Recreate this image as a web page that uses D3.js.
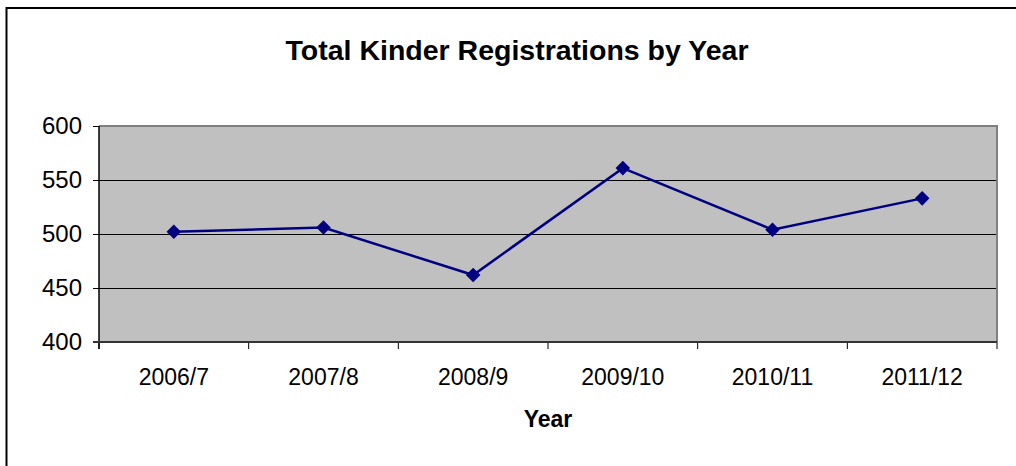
<!DOCTYPE html>
<html>
<head>
<meta charset="utf-8">
<script src="https://cdn.jsdelivr.net/npm/d3@7"></script>
<style>
  body { margin: 0; background: #fff; }
  svg { display: block; font-family: "Liberation Sans", Arial, sans-serif; }
</style>
</head>
<body>
<script>
const years = ['2006/7', '2007/8', '2008/9', '2009/10', '2010/11', '2011/12']
const registrations = [502, 506, 462, 561, 504, 533]
const yTicks = [400, 450, 500, 550, 600]

const w = 1016
const h = 466
const plotLeft = 99
const plotRight = 997
const plotTop = 126
const plotBottom = 342

const svg = d3.select('body')
  .append('svg')
  .attr('width', w)
  .attr('height', h)

// outer chart frame (runs off the right and bottom edges)
svg.append('rect')
  .attr('x', 6.5)
  .attr('y', 8)
  .attr('width', w + 20)
  .attr('height', h + 20)
  .attr('fill', '#fff')
  .attr('stroke', '#000')
  .attr('stroke-width', 2)

const xScale = d3.scaleBand()
  .domain(years)
  .range([plotLeft, plotRight])
const yScale = d3.scaleLinear()
  .domain([400, 600])
  .range([plotBottom, plotTop])

// plot area
svg.append('rect')
  .attr('x', plotLeft)
  .attr('y', plotTop)
  .attr('width', plotRight - plotLeft)
  .attr('height', plotBottom - plotTop)
  .attr('fill', '#c0c0c0')

// gridlines
svg.selectAll('.grid')
  .data(yTicks.filter(t => t > 400 && t < 600))
  .enter()
  .append('line')
  .attr('class', 'grid')
  .attr('x1', plotLeft)
  .attr('x2', plotRight)
  .attr('y1', d => Math.round(yScale(d)) + 0.5)
  .attr('y2', d => Math.round(yScale(d)) + 0.5)
  .attr('stroke', '#000')
  .attr('stroke-width', 1)

// gray border top and right
svg.append('path')
  .attr('d', `M${plotLeft},${plotTop} H${plotRight} V${plotBottom}`)
  .attr('fill', 'none')
  .attr('stroke', '#808080')
  .attr('stroke-width', 2)

const yAxis = d3.axisLeft(yScale)
  .tickValues(yTicks)
  .tickSize(6)
  .tickPadding(11)
const xAxis = d3.axisBottom(xScale)
  .tickSize(0)
  .tickPadding(27)

svg.append('g')
  .attr('id', 'y-axis')
  .attr('transform', `translate(${plotLeft}, 0)`)
  .call(yAxis)
  .call(g => g.select('.domain').remove())
  .call(g => g.selectAll('line').attr('stroke', '#000'))
  .call(g => g.selectAll('text').attr('font-size', 24).attr('fill', '#000').attr('font-family', 'Liberation Sans, Arial, sans-serif'))

svg.append('g')
  .attr('id', 'x-axis')
  .attr('transform', `translate(0, ${plotBottom})`)
  .call(xAxis)
  .call(g => g.select('.domain').remove())
  .call(g => g.selectAll('text').attr('font-size', 23).attr('fill', '#000').attr('font-family', 'Liberation Sans, Arial, sans-serif'))

// category boundary ticks
const bounds = years.map(y => xScale(y)).concat([xScale.range()[1]])
svg.selectAll('.xtick')
  .data(bounds)
  .enter()
  .append('line')
  .attr('class', 'xtick')
  .attr('x1', d => d)
  .attr('x2', d => d)
  .attr('y1', plotBottom)
  .attr('y2', plotBottom + 7)
  .attr('stroke', '#000')

// axis lines
svg.append('line')
  .attr('x1', plotLeft).attr('x2', plotLeft)
  .attr('y1', plotTop).attr('y2', plotBottom + 7)
  .attr('stroke', '#000')
  .attr('stroke-width', 1.5)
svg.append('line')
  .attr('x1', plotLeft - 6).attr('x2', plotRight)
  .attr('y1', plotBottom).attr('y2', plotBottom)
  .attr('stroke', '#333')
  .attr('stroke-width', 2)

// series line
const line = d3.line()
  .x((d, i) => xScale(years[i]) + xScale.bandwidth() / 2)
  .y(d => yScale(d))

svg.append('path')
  .datum(registrations)
  .attr('d', line)
  .attr('fill', 'none')
  .attr('stroke', '#000080')
  .attr('stroke-width', 2.5)

svg.selectAll('.marker')
  .data(registrations)
  .enter()
  .append('path')
  .attr('class', 'marker')
  .attr('d', d3.symbol().type(d3.symbolDiamond2).size(135))
  .attr('transform', (d, i) => `translate(${xScale(years[i]) + xScale.bandwidth() / 2}, ${yScale(d)})`)
  .attr('fill', '#000080')

// titles
svg.append('text')
  .attr('x', 517)
  .attr('y', 60)
  .attr('text-anchor', 'middle')
  .attr('font-size', 28.5)
  .attr('font-weight', 'bold')
  .text('Total Kinder Registrations by Year')

svg.append('text')
  .attr('x', 548)
  .attr('y', 427)
  .attr('text-anchor', 'middle')
  .attr('font-size', 23)
  .attr('font-weight', 'bold')
  .text('Year')
</script>
</body>
</html>
